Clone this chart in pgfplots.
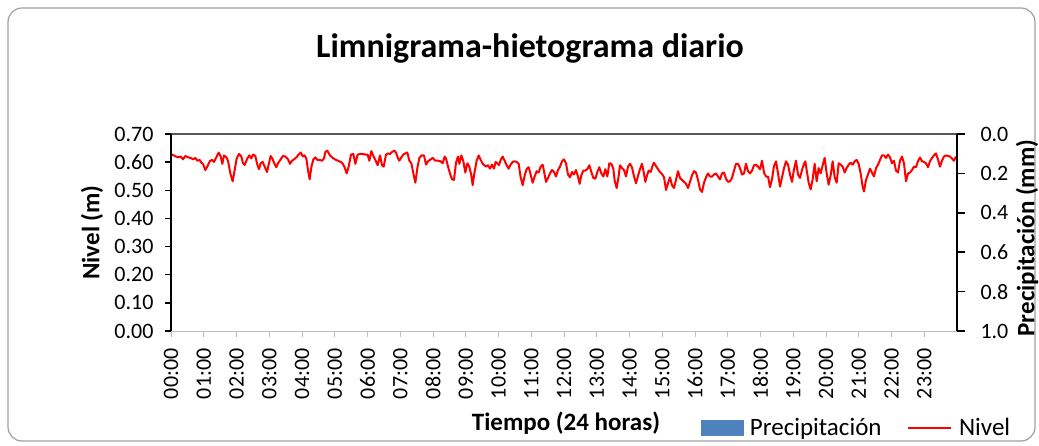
\documentclass[border=0pt]{standalone}
\usepackage{pgfplots}
\pgfplotsset{compat=1.18}
\usepackage{fontspec}
\setmainfont{Carlito}
\definecolor{nivel}{RGB}{255,0,0}
\definecolor{precip}{RGB}{79,129,189}
\definecolor{framec}{RGB}{160,160,160}
\definecolor{topline}{RGB}{89,89,89}
\definecolor{botline}{RGB}{190,190,190}
\pgfplotstableread{
t v
0.000 0.629
0.112 0.622
0.214 0.617
0.295 0.620
0.366 0.610
0.438 0.622
0.519 0.617
0.600 0.615
0.672 0.610
0.743 0.615
0.804 0.605
0.875 0.608
0.926 0.598
0.977 0.594
1.048 0.572
1.109 0.584
1.181 0.603
1.252 0.608
1.313 0.601
1.384 0.617
1.455 0.634
1.517 0.620
1.567 0.594
1.618 0.624
1.690 0.617
1.740 0.605
1.812 0.560
1.883 0.532
1.944 0.572
2.005 0.613
2.076 0.629
2.148 0.620
2.198 0.596
2.249 0.590
2.331 0.613
2.392 0.624
2.453 0.613
2.504 0.627
2.575 0.622
2.636 0.591
2.687 0.575
2.738 0.596
2.799 0.601
2.860 0.584
2.931 0.565
2.992 0.596
3.043 0.622
3.094 0.613
3.145 0.598
3.216 0.582
3.267 0.596
3.349 0.610
3.420 0.622
3.491 0.620
3.572 0.610
3.634 0.594
3.695 0.605
3.756 0.610
3.827 0.617
3.898 0.627
3.959 0.634
4.030 0.620
4.081 0.624
4.132 0.613
4.183 0.572
4.234 0.539
4.285 0.582
4.346 0.610
4.407 0.617
4.468 0.608
4.539 0.608
4.611 0.605
4.672 0.613
4.712 0.636
4.773 0.641
4.794 0.636
4.855 0.624
4.937 0.615
5.038 0.608
5.140 0.603
5.222 0.598
5.293 0.584
5.364 0.560
5.425 0.584
5.496 0.627
5.568 0.629
5.629 0.594
5.700 0.627
5.771 0.629
5.853 0.629
5.934 0.627
6.005 0.627
6.056 0.605
6.117 0.639
6.178 0.622
6.239 0.608
6.311 0.589
6.382 0.624
6.443 0.589
6.494 0.584
6.565 0.627
6.626 0.631
6.687 0.629
6.748 0.636
6.820 0.641
6.870 0.634
6.921 0.617
6.972 0.605
7.033 0.617
7.094 0.627
7.155 0.631
7.216 0.634
7.278 0.605
7.339 0.596
7.400 0.560
7.461 0.527
7.522 0.579
7.583 0.615
7.654 0.624
7.725 0.624
7.786 0.591
7.847 0.603
7.909 0.608
7.990 0.615
8.071 0.605
8.153 0.605
8.234 0.603
8.295 0.596
8.356 0.620
8.397 0.613
8.458 0.584
8.519 0.560
8.580 0.539
8.641 0.537
8.702 0.598
8.764 0.620
8.804 0.594
8.865 0.624
8.926 0.603
8.987 0.563
9.048 0.596
9.110 0.584
9.171 0.553
9.211 0.518
9.262 0.560
9.333 0.605
9.395 0.624
9.456 0.608
9.517 0.594
9.618 0.584
9.679 0.589
9.740 0.577
9.801 0.591
9.862 0.577
9.913 0.601
9.964 0.596
10.015 0.589
10.066 0.608
10.127 0.620
10.188 0.605
10.249 0.589
10.310 0.577
10.371 0.591
10.432 0.601
10.493 0.603
10.554 0.601
10.616 0.594
10.677 0.546
10.738 0.518
10.799 0.553
10.860 0.575
10.921 0.582
10.982 0.556
11.043 0.527
11.104 0.549
11.165 0.568
11.226 0.563
11.287 0.584
11.348 0.591
11.389 0.568
11.450 0.530
11.511 0.544
11.572 0.560
11.633 0.572
11.694 0.565
11.755 0.549
11.816 0.572
11.878 0.584
11.939 0.603
12.000 0.610
12.061 0.596
12.122 0.556
12.183 0.546
12.244 0.565
12.305 0.556
12.366 0.572
12.427 0.549
12.478 0.523
12.529 0.553
12.590 0.570
12.651 0.570
12.712 0.575
12.773 0.589
12.834 0.565
12.895 0.544
12.957 0.541
13.018 0.565
13.079 0.582
13.140 0.560
13.201 0.549
13.262 0.575
13.323 0.549
13.384 0.596
13.445 0.594
13.506 0.577
13.547 0.534
13.608 0.508
13.669 0.551
13.710 0.589
13.771 0.579
13.832 0.572
13.893 0.549
13.954 0.584
14.015 0.594
14.076 0.582
14.137 0.549
14.198 0.525
14.259 0.551
14.320 0.575
14.381 0.594
14.433 0.565
14.484 0.530
14.535 0.553
14.586 0.570
14.647 0.565
14.708 0.589
14.748 0.598
14.809 0.586
14.871 0.575
14.932 0.565
14.993 0.558
15.054 0.546
15.115 0.501
15.176 0.525
15.237 0.546
15.298 0.518
15.359 0.508
15.420 0.537
15.481 0.568
15.542 0.544
15.603 0.537
15.664 0.530
15.726 0.523
15.787 0.508
15.848 0.530
15.909 0.553
15.970 0.568
16.031 0.563
16.092 0.537
16.153 0.503
16.214 0.494
16.275 0.527
16.336 0.546
16.397 0.560
16.458 0.549
16.519 0.549
16.580 0.556
16.641 0.560
16.703 0.549
16.764 0.539
16.825 0.560
16.886 0.563
16.947 0.541
17.008 0.530
17.069 0.532
17.130 0.544
17.191 0.570
17.252 0.594
17.313 0.594
17.374 0.579
17.435 0.556
17.496 0.560
17.557 0.594
17.619 0.568
17.680 0.560
17.741 0.570
17.802 0.589
17.863 0.591
17.924 0.584
17.985 0.575
18.046 0.605
18.107 0.563
18.168 0.549
18.229 0.549
18.290 0.511
18.351 0.539
18.412 0.586
18.474 0.603
18.535 0.560
18.596 0.513
18.657 0.546
18.718 0.579
18.779 0.603
18.840 0.591
18.901 0.556
18.962 0.530
19.023 0.575
19.084 0.605
19.145 0.556
19.206 0.544
19.267 0.572
19.328 0.594
19.369 0.603
19.410 0.572
19.471 0.527
19.532 0.503
19.593 0.539
19.654 0.594
19.715 0.532
19.776 0.579
19.837 0.560
19.898 0.589
19.959 0.615
20.020 0.560
20.081 0.520
20.142 0.553
20.203 0.603
20.265 0.546
20.326 0.527
20.387 0.596
20.448 0.591
20.509 0.584
20.570 0.563
20.631 0.579
20.692 0.591
20.753 0.598
20.814 0.591
20.875 0.603
20.936 0.608
20.997 0.594
21.058 0.560
21.119 0.513
21.160 0.496
21.221 0.537
21.282 0.556
21.343 0.577
21.404 0.563
21.465 0.549
21.527 0.579
21.588 0.591
21.649 0.608
21.710 0.624
21.771 0.624
21.832 0.615
21.893 0.627
21.954 0.617
22.015 0.596
22.076 0.605
22.137 0.570
22.198 0.563
22.259 0.605
22.320 0.620
22.381 0.596
22.443 0.532
22.504 0.560
22.565 0.563
22.626 0.572
22.687 0.584
22.748 0.582
22.809 0.603
22.870 0.617
22.931 0.603
22.992 0.601
23.053 0.596
23.114 0.582
23.175 0.603
23.236 0.615
23.297 0.624
23.358 0.631
23.419 0.610
23.480 0.584
23.541 0.605
23.602 0.620
23.663 0.624
23.724 0.622
23.785 0.620
23.846 0.613
23.907 0.605
23.968 0.620
}\niveltable
\begin{document}
\begin{tikzpicture}[x=1pt,y=1pt]
\path[use as bounding box] (0pt,0pt) rectangle (1039pt,445pt);
\draw[framec, line width=1.2pt, rounded corners=14pt] (8pt,4pt) rectangle (1035pt,437pt);
\node[font=\fontsize{34}{40}\selectfont\bfseries] at (530pt,397pt) {Limnigrama-hietograma diario};
\begin{axis}[
  at={(171pt,114pt)}, anchor=south west, scale only axis,
  width=786pt, height=197pt,
  xmin=0, xmax=24, ymin=0, ymax=0.7,
  axis line style={draw=none},
  xtick={0,...,23},
  xticklabels={00:00,01:00,02:00,03:00,04:00,05:00,06:00,07:00,08:00,09:00,10:00,11:00,12:00,13:00,14:00,15:00,16:00,17:00,18:00,19:00,20:00,21:00,22:00,23:00},
  xtick pos=left, ytick pos=left,
  tick align=outside,
  major tick length=6pt,
  xtick style={botline, line width=1pt},
  ytick style={black, line width=1.5pt},
  ytick={0,0.1,...,0.7},
  yticklabel style={/pgf/number format/fixed, /pgf/number format/fixed zerofill, /pgf/number format/precision=2, xshift=-8pt},
  /pgf/number format/assume math mode=true,
  tick label style={font=\fontsize{22}{26}\selectfont},
  xticklabel style={yshift=-8pt, rotate=90, anchor=east},
  every axis y label/.style={at={(axis description cs:-0.1005,0.5)}, rotate=90, anchor=center, font=\fontsize{25}{30}\selectfont\bfseries},
  every axis x label/.style={at={(axis description cs:0.5025,-0.467)}, anchor=center, font=\fontsize{25}{30}\selectfont\bfseries},
  ylabel={Nivel (m)},
  xlabel={Tiempo (24 horas)},
  legend style={at={(axis description cs:0.872,-0.492)}, anchor=center, draw=none, fill=none,
    legend columns=2, font=\fontsize{25}{30}\selectfont,
    /tikz/every odd column/.append style={column sep=5pt},
    /tikz/every even column/.append style={column sep=24pt}},
  clip=false,
]
\addlegendimage{legend image code/.code={\fill[precip] (0pt,-7.5pt) rectangle (42pt,7.5pt);}}
\addlegendentry{Precipitación}
\addplot[nivel, line width=2pt, line join=round, legend image code/.code={\draw[nivel, line width=1.5pt] (0pt,0pt) -- (43pt,0pt);}] table[x=t, y=v] {\niveltable};
\addlegendentry{Nivel}
\draw[botline, line width=1pt] (rel axis cs:0,0) -- (rel axis cs:1,0);
\draw[topline, line width=2pt] (rel axis cs:0,1) -- (rel axis cs:1,1);
\draw[black, line width=2pt] (rel axis cs:0,0) -- (rel axis cs:0,1);
\draw[black, line width=2pt] (rel axis cs:1,0) -- (rel axis cs:1,1);
\end{axis}
\begin{axis}[
  at={(171pt,114pt)}, anchor=south west, scale only axis,
  width=786pt, height=197pt,
  xmin=0, xmax=24, ymin=0, ymax=1, y dir=reverse,
  axis line style={draw=none},
  hide x axis,
  ytick pos=right, yticklabel pos=right,
  tick align=outside, major tick length=8pt,
  ytick style={black, line width=1.5pt},
  ytick={0,0.2,...,1.0},
  yticklabel style={/pgf/number format/fixed, /pgf/number format/fixed zerofill, /pgf/number format/precision=1, xshift=12pt},
  /pgf/number format/assume math mode=true,
  tick label style={font=\fontsize{22}{26}\selectfont},
  every axis y label/.style={at={(axis description cs:1.0890,0.472)}, rotate=90, anchor=center, font=\fontsize{25}{30}\selectfont\bfseries},
  ylabel={Precipitación (mm)},
]
\end{axis}
\end{tikzpicture}
\end{document}
